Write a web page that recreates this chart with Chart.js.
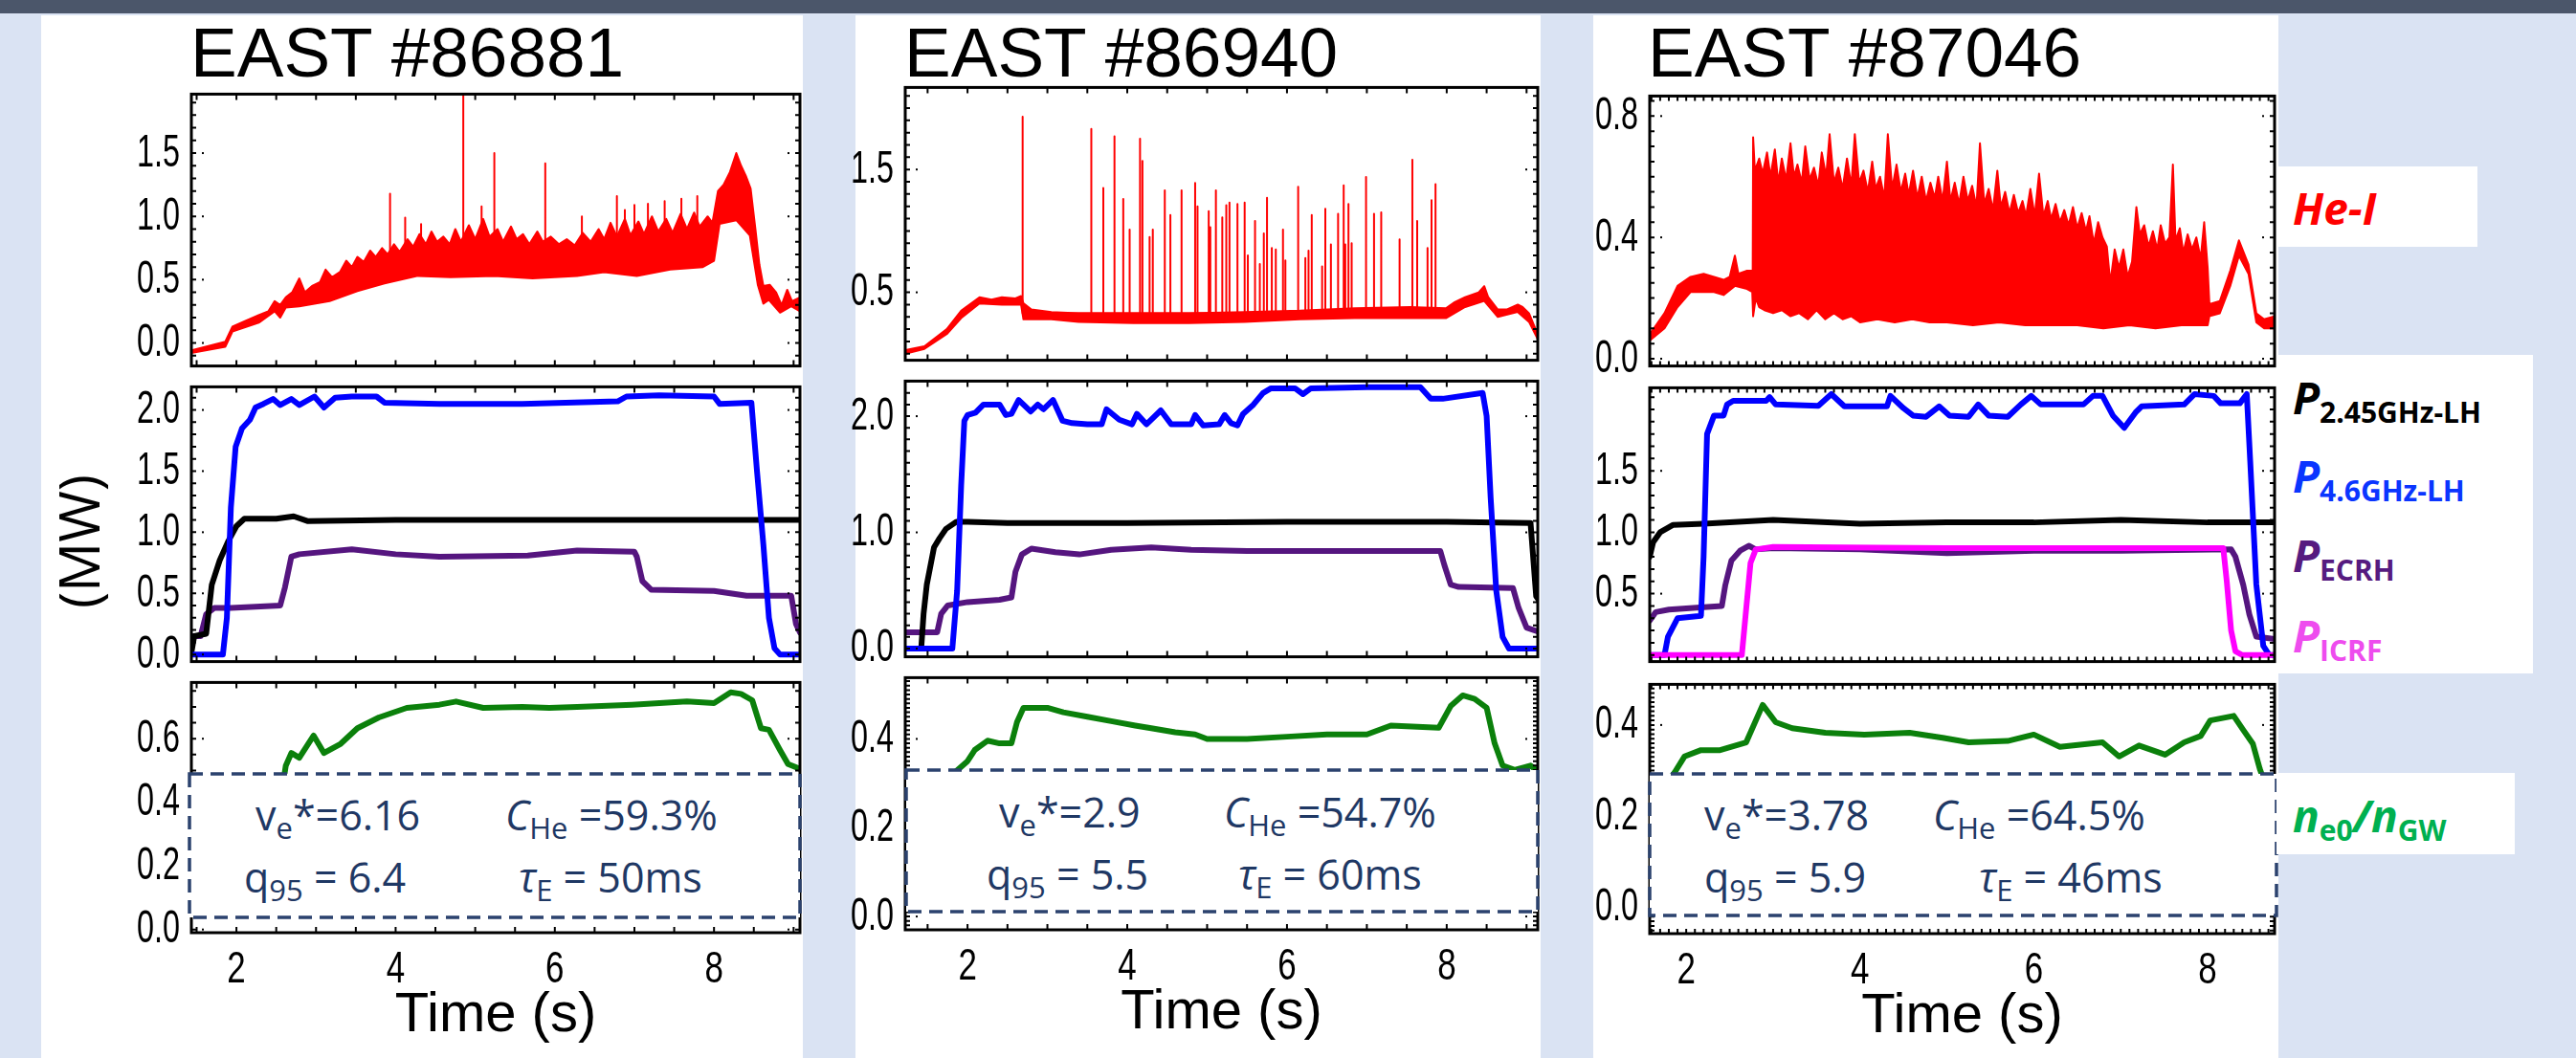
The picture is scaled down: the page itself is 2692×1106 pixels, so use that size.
<!DOCTYPE html>
<html><head><meta charset="utf-8">
<script src="https://cdn.jsdelivr.net/npm/chart.js@4.4.1/dist/chart.umd.min.js"></script>
<style>
html,body{margin:0;padding:0;}
body{width:2692px;height:1106px;position:relative;overflow:hidden;background:#dae3f3;font-family:'Liberation Sans',Arial,sans-serif;}
#strip{position:absolute;left:0;top:0;width:2692px;height:14px;background:#4b566a;}
.panel{position:absolute;top:16px;height:1090px;background:#fff;}
canvas{position:absolute;z-index:1;}
.title{position:absolute;top:18px;font-family:'Liberation Sans',Arial,sans-serif;font-size:73px;line-height:1;color:#000;white-space:nowrap;z-index:2;}
svg.dbox{position:absolute;z-index:3;overflow:visible;}
.st{position:absolute;font-family:'Open Sans',sans-serif;font-size:43px;line-height:1;color:#1f3864;white-space:nowrap;z-index:4;}
.st sub{font-size:0.72em;vertical-align:-0.3em;line-height:0;}
.lbox{position:absolute;background:#fff;z-index:5;}
.lg{position:absolute;font-family:'Open Sans',sans-serif;font-size:46px;font-weight:700;font-style:italic;line-height:1;white-space:nowrap;z-index:6;}
.lg .sb{font-size:30px;font-style:normal;vertical-align:-9px;line-height:0;}
#mw{position:absolute;left:82px;top:566px;transform:translate(-50%,-50%) rotate(-90deg);font-family:'Open Sans',sans-serif;font-size:58px;line-height:1;color:#000;white-space:nowrap;z-index:2;}
</style></head>
<body>
<div id="strip"></div>
<div class="panel" style="left:43px;width:796px"></div>
<div class="panel" style="left:894px;width:716px"></div>
<div class="panel" style="left:1665px;width:716px"></div>

<div class="title" style="left:199px">EAST #86881</div>
<div class="title" style="left:945px">EAST #86940</div>
<div class="title" style="left:1722px">EAST #87046</div>
<div id="mw">(MW)</div>

<!-- parameter boxes -->
<svg class="dbox" style="left:198px;top:809px" width="638" height="150"><rect x="0" y="0" width="638" height="150" fill="#fff" stroke="#2b426e" stroke-width="3.5" stroke-dasharray="14 8"/></svg>
<div class="st" style="left:267px;top:830px">v<sub>e</sub>*=6.16</div>
<div class="st" style="left:528px;top:830px"><i>C</i><sub>He</sub> =59.3%</div>
<div class="st" style="left:255px;top:895px">q<sub>95</sub> = 6.4</div>
<div class="st" style="left:542px;top:895px"><i>τ</i><sub>E</sub> = 50ms</div>

<svg class="dbox" style="left:947px;top:805px" width="660" height="148"><rect x="0" y="0" width="660" height="148" fill="#fff" stroke="#2b426e" stroke-width="3.5" stroke-dasharray="14 8"/></svg>
<div class="st" style="left:1044px;top:827px">v<sub>e</sub>*=2.9</div>
<div class="st" style="left:1279px;top:827px"><i>C</i><sub>He</sub> =54.7%</div>
<div class="st" style="left:1031px;top:892px">q<sub>95</sub> = 5.5</div>
<div class="st" style="left:1294px;top:892px"><i>τ</i><sub>E</sub> = 60ms</div>

<svg class="dbox" style="left:1724px;top:809px" width="655" height="148"><rect x="0" y="0" width="655" height="148" fill="#fff" stroke="#2b426e" stroke-width="3.5" stroke-dasharray="14 8"/></svg>
<div class="st" style="left:1781px;top:830px">v<sub>e</sub>*=3.78</div>
<div class="st" style="left:2020px;top:830px"><i>C</i><sub>He</sub> =64.5%</div>
<div class="st" style="left:1781px;top:895px">q<sub>95</sub> = 5.9</div>
<div class="st" style="left:2068px;top:895px"><i>τ</i><sub>E</sub> = 46ms</div>

<!-- legend boxes -->
<div class="lbox" style="left:2379px;top:174px;width:210px;height:84px"></div>
<div class="lg" style="left:2396px;top:194px;color:#ff0000">He-I</div>
<div class="lbox" style="left:2379px;top:371px;width:268px;height:333px"></div>
<div class="lg" style="left:2396px;top:392px;color:#000">P<span class="sb">2.45GHz-LH</span></div>
<div class="lg" style="left:2396px;top:474px;color:#0a35ff">P<span class="sb">4.6GHz-LH</span></div>
<div class="lg" style="left:2396px;top:557px;color:#561b80">P<span class="sb">ECRH</span></div>
<div class="lg" style="left:2396px;top:641px;color:#ee4cee">P<span class="sb">ICRF</span></div>
<div class="lbox" style="left:2379px;top:808px;width:249px;height:85px"></div>
<div class="lg" style="left:2396px;top:829px;color:#00b050">n<span class="sb">e0</span>/n<span class="sb">GW</span></div>

<script>
// ===================== DATA (time in s, value) =====================
// ---- EAST #86881 ----
const c1_heLower = [[1.43,-0.08],[1.86,-0.03],[1.95,0.09],[2.28,0.16],[2.48,0.25],[2.55,0.20],[2.62,0.28],[2.79,0.29],[3.17,0.33],[3.52,0.41],[3.86,0.47],[4.28,0.53],[4.69,0.52],[5.24,0.53],[5.72,0.51],[6.28,0.53],[6.62,0.56],[7.03,0.53],[7.45,0.58],[7.86,0.60],[8.00,0.65],[8.07,0.94],[8.28,0.97],[8.45,0.85],[8.55,0.46],[8.62,0.31],[8.69,0.34],[8.83,0.24],[8.97,0.29],[9.08,0.25]];
const c1_heUpper = [[1.43,-0.06],[1.86,0.01],[1.95,0.13],[2.10,0.17],[2.28,0.22],[2.40,0.25],[2.48,0.33],[2.55,0.30],[2.62,0.36],[2.70,0.40],[2.79,0.51],[2.86,0.40],[2.95,0.45],[3.05,0.48],[3.12,0.58],[3.20,0.52],[3.30,0.56],[3.38,0.65],[3.45,0.60],[3.52,0.68],[3.60,0.64],[3.68,0.73],[3.75,0.68],[3.83,0.75],[3.90,0.70],[3.98,0.78],[4.05,0.72],[4.15,0.82],[4.22,0.76],[4.30,0.86],[4.38,0.78],[4.45,0.88],[4.52,0.80],[4.60,0.84],[4.68,0.78],[4.75,0.90],[4.82,0.80],[4.92,0.93],[5.00,0.82],[5.10,0.98],[5.18,0.84],[5.28,0.90],[5.35,0.80],[5.45,0.92],[5.52,0.82],[5.60,0.86],[5.68,0.78],[5.78,0.88],[5.85,0.80],[5.95,0.84],[6.05,0.78],[6.15,0.82],[6.25,0.77],[6.35,0.87],[6.45,0.80],[6.55,0.90],[6.62,0.82],[6.70,0.95],[6.78,0.84],[6.88,0.98],[6.95,0.85],[7.05,0.96],[7.12,0.86],[7.22,1.00],[7.30,0.88],[7.40,0.98],[7.48,0.87],[7.58,1.02],[7.66,0.90],[7.75,1.03],[7.82,0.92],[7.92,1.00],[7.98,0.95],[8.05,1.20],[8.12,1.25],[8.20,1.35],[8.28,1.50],[8.34,1.40],[8.40,1.32],[8.46,1.22],[8.52,0.90],[8.57,0.62],[8.62,0.45],[8.70,0.46],[8.78,0.40],[8.85,0.30],[8.92,0.42],[8.98,0.33],[9.08,0.36]];
const c1_spikeT    = [3.93,4.12,4.32,4.85,5.08,5.24,5.88,6.34,6.78,6.88,7.00,7.17,7.38,7.59,7.79];
const c1_spikeBase = [0.65,0.70,0.72,0.75,0.75,0.75,0.75,0.75,0.78,0.78,0.80,0.80,0.82,0.85,0.88];
const c1_spikePeak = [1.18,0.99,0.94,1.96,1.08,1.50,1.42,1.00,1.16,1.05,1.09,1.10,1.12,1.14,1.16];
const c1_pLH46  = [[1.43,0.0],[1.83,0.0],[1.88,0.30],[1.93,1.20],[1.99,1.70],[2.07,1.85],[2.17,1.92],[2.24,2.02],[2.34,2.05],[2.46,2.09],[2.55,2.04],[2.69,2.09],[2.79,2.04],[2.98,2.11],[3.10,2.02],[3.24,2.10],[3.45,2.11],[3.76,2.11],[3.86,2.06],[4.55,2.05],[5.59,2.05],[6.79,2.07],[6.90,2.11],[7.31,2.12],[8.00,2.11],[8.07,2.05],[8.47,2.06],[8.54,1.50],[8.62,0.90],[8.69,0.30],[8.76,0.05],[8.83,0.0],[9.08,0.0]];
const c1_pLH245 = [[1.43,0.0],[1.47,0.15],[1.62,0.17],[1.69,0.57],[1.79,0.77],[1.90,0.93],[2.00,1.05],[2.10,1.11],[2.50,1.11],[2.72,1.13],[2.90,1.09],[4.00,1.10],[5.50,1.10],[7.00,1.10],[9.08,1.10]];
const c1_pECRH  = [[1.43,0.15],[1.55,0.15],[1.62,0.33],[1.72,0.38],[1.93,0.38],[2.55,0.40],[2.61,0.55],[2.69,0.80],[2.79,0.82],[3.45,0.86],[4.00,0.82],[4.55,0.80],[5.66,0.81],[6.28,0.85],[7.00,0.84],[7.03,0.80],[7.10,0.60],[7.21,0.53],[8.00,0.52],[8.41,0.48],[8.97,0.48],[9.03,0.25],[9.08,0.18]];
const c1_neRatio = [[2.55,0.40],[2.62,0.515],[2.69,0.555],[2.79,0.54],[2.97,0.61],[3.10,0.555],[3.31,0.584],[3.52,0.633],[3.79,0.667],[4.14,0.697],[4.55,0.707],[4.76,0.717],[5.10,0.697],[5.59,0.70],[5.93,0.697],[6.28,0.70],[6.97,0.707],[7.66,0.717],[8.00,0.712],[8.21,0.746],[8.34,0.741],[8.48,0.721],[8.59,0.633],[8.69,0.628],[8.83,0.564],[8.93,0.52],[9.08,0.505]];

// ---- EAST #86940 ----
const c2_heLower = [[1.22,0.0],[1.46,0.04],[1.74,0.16],[1.92,0.29],[2.15,0.41],[2.43,0.40],[2.67,0.40],[2.70,0.28],[3.05,0.28],[3.39,0.26],[4.08,0.25],[4.77,0.25],[5.47,0.26],[6.16,0.28],[6.85,0.29],[7.54,0.29],[7.99,0.29],[8.23,0.38],[8.47,0.43],[8.64,0.30],[8.89,0.34],[9.03,0.26],[9.17,0.08]];
const c2_heUpper = [[1.22,0.03],[1.46,0.06],[1.74,0.20],[1.92,0.35],[2.15,0.46],[2.30,0.44],[2.43,0.46],[2.60,0.45],[2.67,0.47],[2.70,0.41],[2.80,0.36],[3.05,0.34],[3.39,0.33],[4.08,0.33],[4.77,0.33],[5.47,0.34],[6.16,0.35],[6.85,0.37],[7.54,0.38],[7.99,0.37],[8.10,0.42],[8.23,0.46],[8.40,0.50],[8.47,0.55],[8.52,0.46],[8.64,0.36],[8.75,0.36],[8.89,0.40],[8.95,0.38],[9.03,0.33],[9.17,0.11]];
const c2_spikeT    = [2.69,3.55,3.70,3.84,3.95,4.03,4.16,4.19,4.28,4.32,4.47,4.54,4.68,4.85,4.88,5.02,5.04,5.11,5.19,5.24,5.28,5.38,5.47,5.51,5.60,5.66,5.71,5.75,5.81,5.86,5.95,5.98,6.14,6.23,6.27,6.31,6.44,6.48,6.55,6.64,6.71,6.73,6.77,6.81,6.99,7.09,7.18,7.41,7.57,7.63,7.76,7.81,7.86];
const c2_spikePeak = [1.93,1.83,1.35,1.77,1.26,1.01,1.75,1.57,0.95,1.01,1.33,1.13,1.33,1.39,1.20,1.16,1.03,1.33,1.11,1.21,1.23,1.22,1.23,0.80,1.08,0.73,0.98,1.27,0.86,0.85,1.01,0.76,1.36,0.78,0.84,1.13,0.71,1.18,0.89,1.14,1.37,0.89,1.22,0.90,1.44,1.14,1.15,0.93,1.58,1.08,0.86,1.25,1.38];
const c2_spikeBaseLevel = 0.33;
const c2_pLH46  = [[1.22,0.0],[1.81,0.0],[1.87,0.50],[1.92,1.40],[1.96,1.96],[2.00,2.01],[2.10,2.03],[2.20,2.10],[2.40,2.10],[2.48,2.01],[2.55,2.02],[2.64,2.14],[2.79,2.04],[2.88,2.10],[2.95,2.06],[3.07,2.14],[3.19,1.96],[3.31,1.94],[3.50,1.93],[3.68,1.93],[3.74,2.06],[3.90,1.97],[4.06,1.93],[4.12,2.02],[4.24,1.93],[4.42,2.05],[4.55,1.93],[4.80,1.93],[4.85,2.01],[4.95,1.92],[5.15,1.93],[5.22,2.01],[5.30,1.94],[5.38,1.92],[5.45,2.02],[5.58,2.10],[5.70,2.20],[5.80,2.24],[6.10,2.24],[6.20,2.19],[6.30,2.24],[7.00,2.25],[7.67,2.25],[7.80,2.15],[7.95,2.15],[8.45,2.20],[8.50,2.00],[8.55,1.30],[8.62,0.50],[8.70,0.10],[8.78,0.0],[9.17,0.0]];
const c2_pLH245 = [[1.22,0.0],[1.42,0.0],[1.45,0.30],[1.49,0.55],[1.58,0.87],[1.65,0.95],[1.73,1.03],[1.86,1.09],[2.00,1.09],[2.50,1.08],[4.00,1.08],[6.00,1.09],[8.00,1.09],[9.05,1.08],[9.12,0.45],[9.17,0.40]];
const c2_pECRH  = [[1.22,0.14],[1.62,0.14],[1.67,0.30],[1.75,0.37],[2.00,0.40],[2.40,0.42],[2.55,0.44],[2.60,0.66],[2.68,0.81],[2.80,0.86],[3.10,0.83],[3.40,0.81],[3.80,0.85],[4.30,0.87],[4.80,0.85],[5.50,0.84],[7.00,0.84],[7.92,0.84],[7.97,0.72],[8.05,0.55],[8.15,0.53],[8.83,0.52],[8.90,0.35],[9.00,0.18],[9.17,0.14]];
const c2_neRatio = [[1.22,0.13],[1.85,0.326],[2.00,0.35],[2.09,0.375],[2.25,0.396],[2.40,0.39],[2.55,0.39],[2.62,0.438],[2.70,0.47],[3.00,0.47],[3.20,0.46],[3.50,0.45],[3.80,0.44],[4.10,0.43],[4.30,0.424],[4.60,0.415],[4.85,0.41],[5.00,0.40],[5.50,0.40],[6.00,0.405],[6.50,0.41],[7.00,0.41],[7.30,0.43],[7.90,0.425],[8.05,0.474],[8.20,0.498],[8.35,0.49],[8.50,0.47],[8.60,0.39],[8.70,0.34],[8.85,0.33],[9.05,0.34],[9.15,0.326]];

// ---- EAST #87046 ----
const c3_heLower = [[1.58,0.06],[1.75,0.10],[1.90,0.17],[2.05,0.22],[2.32,0.22],[2.43,0.21],[2.56,0.24],[2.70,0.23],[2.76,0.22],[2.77,0.14],[2.80,0.20],[2.84,0.17],[2.90,0.16],[3.00,0.15],[3.10,0.16],[3.20,0.14],[3.30,0.15],[3.40,0.13],[3.50,0.16],[3.60,0.13],[3.70,0.15],[3.80,0.13],[3.90,0.14],[4.00,0.12],[4.20,0.13],[4.40,0.12],[4.60,0.13],[4.80,0.12],[5.00,0.12],[5.30,0.11],[5.60,0.12],[5.90,0.11],[6.20,0.11],[6.50,0.11],[6.80,0.10],[7.10,0.11],[7.40,0.10],[7.70,0.11],[8.00,0.11],[8.02,0.14],[8.14,0.15],[8.26,0.24],[8.36,0.34],[8.47,0.28],[8.56,0.12],[8.65,0.10],[8.77,0.10]];
const c3_heUpper = [[1.58,0.08],[1.75,0.15],[1.90,0.24],[2.05,0.27],[2.20,0.28],[2.32,0.27],[2.43,0.26],[2.50,0.27],[2.56,0.34],[2.60,0.28],[2.70,0.29],[2.765,0.29],[2.77,0.73],[2.79,0.62],[2.84,0.66],[2.88,0.61],[2.93,0.68],[2.97,0.60],[3.02,0.69],[3.06,0.58],[3.10,0.66],[3.15,0.59],[3.20,0.71],[3.24,0.60],[3.28,0.64],[3.33,0.58],[3.37,0.70],[3.42,0.59],[3.47,0.63],[3.52,0.57],[3.56,0.68],[3.61,0.60],[3.65,0.74],[3.70,0.58],[3.75,0.63],[3.80,0.56],[3.85,0.66],[3.90,0.57],[3.94,0.74],[3.99,0.58],[4.04,0.62],[4.09,0.55],[4.14,0.65],[4.18,0.56],[4.23,0.60],[4.28,0.53],[4.32,0.74],[4.37,0.56],[4.42,0.64],[4.47,0.55],[4.52,0.61],[4.56,0.54],[4.61,0.62],[4.66,0.53],[4.71,0.60],[4.76,0.52],[4.81,0.58],[4.86,0.53],[4.90,0.60],[4.95,0.52],[5.00,0.65],[5.04,0.52],[5.09,0.58],[5.14,0.51],[5.19,0.60],[5.24,0.52],[5.29,0.57],[5.34,0.50],[5.38,0.71],[5.43,0.51],[5.48,0.56],[5.53,0.49],[5.58,0.62],[5.62,0.50],[5.67,0.55],[5.72,0.48],[5.77,0.54],[5.82,0.48],[5.87,0.52],[5.91,0.47],[5.96,0.56],[6.01,0.47],[6.06,0.61],[6.11,0.47],[6.16,0.52],[6.20,0.46],[6.25,0.51],[6.30,0.45],[6.35,0.49],[6.40,0.44],[6.45,0.50],[6.50,0.43],[6.55,0.48],[6.60,0.42],[6.64,0.47],[6.69,0.38],[6.74,0.45],[6.79,0.40],[6.84,0.37],[6.88,0.25],[6.93,0.36],[6.98,0.30],[7.03,0.36],[7.08,0.27],[7.13,0.32],[7.18,0.50],[7.22,0.41],[7.27,0.44],[7.32,0.37],[7.37,0.42],[7.42,0.36],[7.46,0.44],[7.51,0.38],[7.56,0.40],[7.60,0.64],[7.63,0.39],[7.68,0.43],[7.72,0.35],[7.77,0.41],[7.82,0.36],[7.87,0.40],[7.92,0.33],[7.96,0.45],[8.00,0.30],[8.02,0.18],[8.14,0.19],[8.26,0.29],[8.36,0.39],[8.47,0.31],[8.56,0.15],[8.65,0.13],[8.77,0.14]];
const c3_pLH46  = [[1.58,0.0],[1.75,0.0],[1.79,0.15],[1.90,0.30],[2.17,0.32],[2.20,0.80],[2.24,1.80],[2.32,1.95],[2.43,1.95],[2.47,2.04],[2.54,2.07],[2.92,2.07],[2.96,2.10],[3.03,2.04],[3.52,2.03],[3.67,2.125],[3.82,2.025],[4.31,2.025],[4.35,2.11],[4.50,2.01],[4.61,1.95],[4.76,1.94],[4.91,2.025],[5.03,1.95],[5.25,1.94],[5.36,2.04],[5.48,1.95],[5.70,1.94],[5.85,2.04],[5.97,2.11],[6.08,2.04],[6.57,2.04],[6.68,2.11],[6.79,2.11],[6.91,1.95],[7.04,1.85],[7.17,1.975],[7.24,2.025],[7.73,2.04],[7.85,2.125],[8.07,2.11],[8.15,2.05],[8.37,2.05],[8.45,2.125],[8.49,1.575],[8.56,0.575],[8.64,0.075],[8.71,0.0],[8.77,0.0]];
const c3_pLH245 = [[1.58,0.80],[1.62,0.92],[1.70,1.00],[1.85,1.06],[2.20,1.07],[3.00,1.10],[4.00,1.07],[5.00,1.08],[6.00,1.08],[7.00,1.10],[8.00,1.08],[8.77,1.08]];
const c3_pECRH  = [[1.58,0.28],[1.65,0.35],[1.80,0.37],[2.20,0.39],[2.41,0.40],[2.45,0.57],[2.52,0.77],[2.62,0.85],[2.72,0.89],[2.80,0.86],[3.00,0.87],[4.00,0.86],[5.00,0.83],[6.00,0.85],[7.00,0.85],[8.27,0.86],[8.32,0.80],[8.41,0.57],[8.48,0.33],[8.56,0.15],[8.77,0.13]];
const c3_pICRF  = [[1.58,0.0],[2.64,0.0],[2.68,0.30],[2.74,0.75],[2.80,0.86],[3.00,0.88],[5.00,0.87],[7.00,0.87],[8.18,0.87],[8.22,0.60],[8.27,0.20],[8.32,0.03],[8.40,0.0],[8.77,0.0]];
const c3_neRatio = [[1.60,0.225],[1.87,0.297],[1.98,0.331],[2.17,0.345],[2.39,0.345],[2.69,0.362],[2.88,0.444],[3.03,0.406],[3.22,0.393],[3.60,0.383],[4.05,0.379],[4.57,0.383],[4.95,0.372],[5.25,0.362],[5.70,0.365],[6.00,0.379],[6.30,0.352],[6.79,0.362],[6.98,0.331],[7.21,0.355],[7.51,0.335],[7.73,0.362],[7.92,0.376],[8.03,0.41],[8.30,0.42],[8.41,0.389],[8.52,0.359],[8.60,0.304],[8.65,0.277]];

// tick labels
const xTickLabels = [2,4,6,8];
const yTicks_c1 = {heI:[0.0,0.5,1.0,1.5], power:[0.0,0.5,1.0,1.5,2.0], ne:[0.0,0.2,0.4,0.6]};
const yTicks_c2 = {heI:[0.5,1.5], power:[0.0,1.0,2.0], ne:[0.0,0.2,0.4]};
const yTicks_c3 = {heI:[0.0,0.4,0.8], power:[0.5,1.0,1.5], ne:[0.0,0.2,0.4]};

// ===================== RENDERING =====================
// Linear scale whose tick labels are drawn horizontally condensed (IDL-style narrow digits)
class CondensedLinearScale extends Chart.LinearScale {
  drawLabels(chartArea) {
    const opts = this.options;
    if (!opts.ticks.display) return;
    const sx = opts.ticks.condense || 1;
    const ctx = this.ctx;
    const items = this.getLabelItems(chartArea);
    for (const item of items) {
      const o = item.options;
      const tr = o.translation || [0, 0];
      ctx.save();
      ctx.translate(tr[0], tr[1]);
      if (o.rotation) ctx.rotate(o.rotation);
      ctx.scale(sx, 1);
      ctx.font = item.font.string;
      ctx.fillStyle = o.color;
      ctx.textAlign = o.textAlign;
      ctx.textBaseline = o.textBaseline;
      const lines = Array.isArray(item.label) ? item.label : [item.label];
      let yy = item.textOffset;
      for (const l of lines) { ctx.fillText(String(l), 0, yy); yy += item.font.lineHeight; }
      ctx.restore();
    }
  }
}
CondensedLinearScale.id = 'condensedLinear';
CondensedLinearScale.defaults = Chart.LinearScale.defaults;
Chart.register(CondensedLinearScale);

const COL = {red:'#ff0000', blue:'#0000ff', black:'#000000', purple:'#55157f', magenta:'#ff00ff', green:'#0b800b'};
const pts = a => a.map(([x,y]) => ({x, y}));
function spikes(t, base, peak){
  const out = [];
  t.forEach((tt,i) => { const b = Array.isArray(base) ? base[i] : base; out.push({x:tt,y:b},{x:tt,y:peak[i]},{x:tt,y:b}); });
  return out;
}
function lineDs(data, color, w){ return {data, borderColor:color, backgroundColor:color, borderWidth:w, pointRadius:0, fill:false, tension:0}; }
function bandDs(lower, upper, color){
  return [
    {data:pts(lower), borderColor:color, borderWidth:2, pointRadius:0, fill:false},
    {data:pts(upper), borderColor:color, borderWidth:2, pointRadius:0, fill:'-1', backgroundColor:color}
  ];
}

const framePlugin = {
  id:'frame',
  afterDatasetsDraw(chart){
    const o = chart.options.plugins.frame;
    const {ctx, chartArea:a, scales:{x, y}} = chart;
    ctx.save();
    ctx.strokeStyle = '#000'; ctx.lineWidth = 2; ctx.beginPath();
    const x0 = Math.ceil(x.min / o.xStep - 1e-6), x1 = Math.floor(x.max / o.xStep + 1e-6);
    for (let i = x0; i <= x1; i++) {
      const px = x.getPixelForValue(i * o.xStep);
      ctx.moveTo(px, a.bottom); ctx.lineTo(px, a.bottom - o.xLen);
      ctx.moveTo(px, a.top); ctx.lineTo(px, a.top + o.xLen);
    }
    const y0 = Math.ceil(y.min / o.yStep - 1e-6), y1 = Math.floor(y.max / o.yStep + 1e-6);
    for (let i = y0; i <= y1; i++) {
      const py = y.getPixelForValue(i * o.yStep);
      ctx.moveTo(a.left, py); ctx.lineTo(a.left + o.yLen, py);
      ctx.moveTo(a.right, py); ctx.lineTo(a.right - o.yLen, py);
    }
    ctx.stroke();
    ctx.fillStyle = '#000';
    y.ticks.forEach(t => { const py = y.getPixelForValue(t.value); ctx.fillRect(a.left + 11, py - 1, 2, 2); ctx.fillRect(a.right - 13, py - 1, 2, 2); });
    ctx.lineWidth = 3; ctx.strokeRect(a.left, a.top, a.width, a.height);
    ctx.restore();
  }
};

const TICK_FAMILY = "'Liberation Sans',Arial,sans-serif";
const YW = 120, PT = 36, PR = 16, PB = 36, XH = 128;

function makePanel(box, xr, yr, yTicks, datasets, isBottom, fr){
  const W = box.right - box.left + YW + PR;
  const H = box.bottom - box.top + PT + (isBottom ? XH : PB);
  const c = document.createElement('canvas');
  c.width = W; c.height = H;
  c.style.left = (box.left - YW) + 'px'; c.style.top = (box.top - PT) + 'px';
  c.style.width = W + 'px'; c.style.height = H + 'px';
  document.body.appendChild(c);
  new Chart(c.getContext('2d'), {
    type:'line',
    data:{datasets},
    options:{
      responsive:false, animation:false, devicePixelRatio:1,
      layout:{padding:{top:PT, right:PR, bottom:isBottom ? 0 : PB, left:0}},
      plugins:{legend:{display:false}, tooltip:{enabled:false}, title:{display:false}, frame:fr},
      elements:{point:{radius:0}, line:{tension:0, borderJoinStyle:'round', borderCapStyle:'round'}},
      scales:{
        x:{type:'condensedLinear', min:xr[0], max:xr[1], display:isBottom, position:'bottom',
           grid:{display:false, drawTicks:false}, border:{display:false},
           ticks:{font:{family:TICK_FAMILY, size:46}, color:'#000', padding:12, maxRotation:0, autoSkip:false, condense:0.76, callback:v => String(v)},
           afterBuildTicks:s => { s.ticks = xTickLabels.map(v => ({value:v})); },
           title:{display:true, text:'Time (s)', color:'#000', font:{family:"'Liberation Sans',Arial,sans-serif", size:58}, padding:{top:0, bottom:6}},
           afterFit:s => { s.height = isBottom ? XH : 0; }},
        y:{type:'condensedLinear', min:yr[0], max:yr[1],
           grid:{display:false, drawTicks:false}, border:{display:false},
           ticks:{font:{family:TICK_FAMILY, size:49}, color:'#000', padding:12, autoSkip:false, condense:0.66, callback:v => v.toFixed(1)},
           afterBuildTicks:s => { s.ticks = yTicks.map(v => ({value:v})); },
           afterFit:s => { s.width = YW; }}
      }
    },
    plugins:[framePlugin]
  });
}

// column 1
const X1 = [1.434, 9.08];
makePanel({left:200,right:836,top:93,bottom:388}, X1, [-0.182,1.966], yTicks_c1.heI,
  [...bandDs(c1_heLower, c1_heUpper, COL.red), lineDs(spikes(c1_spikeT, c1_spikeBase, c1_spikePeak), COL.red, 2)], false,
  {xStep:0.5, xLen:6, yStep:0.1, yLen:5});
makePanel({left:200,right:836,top:399,bottom:697}, X1, [-0.058,2.189], yTicks_c1.power,
  [lineDs(pts(c1_pLH46), COL.blue, 6), lineDs(pts(c1_pLH245), COL.black, 6), lineDs(pts(c1_pECRH), COL.purple, 6)], false,
  {xStep:0.5, xLen:6, yStep:0.1, yLen:5});
makePanel({left:200,right:836,top:708,bottom:975}, X1, [-0.01,0.777], yTicks_c1.ne,
  [lineDs(pts(c1_neRatio), COL.green, 6)], true,
  {xStep:0.5, xLen:6, yStep:0.05, yLen:5});

// column 2
const X2 = [1.22, 9.14];
makePanel({left:946,right:1607,top:86,bottom:382}, X2, [-0.053,2.168], yTicks_c2.heI,
  [...bandDs(c2_heLower, c2_heUpper, COL.red), lineDs(spikes(c2_spikeT, c2_spikeBaseLevel, c2_spikePeak), COL.red, 2)], false,
  {xStep:0.5, xLen:6, yStep:0.1, yLen:5});
makePanel({left:946,right:1607,top:393,bottom:692}, X2, [-0.071,2.302], yTicks_c2.power,
  [lineDs(pts(c2_pLH46), COL.blue, 6), lineDs(pts(c2_pLH245), COL.black, 6), lineDs(pts(c2_pECRH), COL.purple, 6)], false,
  {xStep:0.5, xLen:6, yStep:0.1, yLen:5});
makePanel({left:946,right:1607,top:703,bottom:972}, X2, [-0.03,0.538], yTicks_c2.ne,
  [lineDs(pts(c2_neRatio), COL.green, 6)], true,
  {xStep:0.5, xLen:6, yStep:0.01, yLen:5});

// column 3
const X3 = [1.58, 8.77];
makePanel({left:1724,right:2377,top:95,bottom:388}, X3, [-0.024,0.866], yTicks_c3.heI,
  [...bandDs(c3_heLower, c3_heUpper, COL.red)], false,
  {xStep:0.1, xLen:5, yStep:0.05, yLen:5});
makePanel({left:1724,right:2377,top:400,bottom:697}, X3, [-0.053,2.176], yTicks_c3.power,
  [lineDs(pts(c3_pICRF), COL.magenta, 6), lineDs(pts(c3_pLH46), COL.blue, 6), lineDs(pts(c3_pLH245), COL.black, 6), lineDs(pts(c3_pECRH), COL.purple, 6)], false,
  {xStep:0.1, xLen:5, yStep:0.1, yLen:5});
makePanel({left:1724,right:2377,top:710,bottom:976}, X3, [-0.057,0.489], yTicks_c3.ne,
  [lineDs(pts(c3_neRatio), COL.green, 6)], true,
  {xStep:0.1, xLen:5, yStep:0.01, yLen:5});
</script>
</body></html>
